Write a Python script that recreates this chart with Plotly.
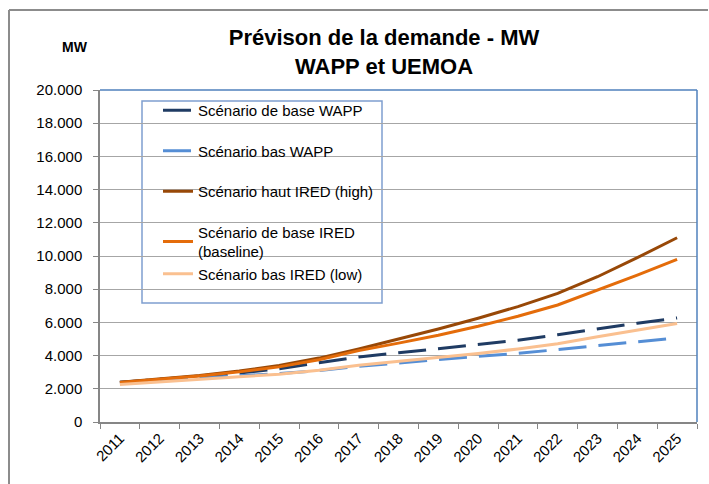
import plotly.graph_objects as go

years = [str(y) for y in range(2011, 2026)]

# valeurs (MW)
base_wapp = [2400, 2560, 2740, 2950, 3200, 3570, 3920, 4170, 4420, 4660, 4920, 5260, 5620, 5950, 6270]
bas_wapp = [2380, 2500, 2640, 2780, 2920, 3100, 3350, 3560, 3760, 3960, 4130, 4360, 4600, 4820, 5070]
haut_ired = [2400, 2580, 2800, 3070, 3400, 3850, 4400, 5000, 5600, 6250, 6950, 7750, 8750, 9900, 11100]
base_ired = [2380, 2560, 2770, 3020, 3320, 3750, 4300, 4750, 5230, 5770, 6370, 7050, 7950, 8850, 9800]
bas_ired = [2260, 2400, 2560, 2720, 2880, 3120, 3420, 3660, 3860, 4120, 4400, 4720, 5130, 5530, 5930]

y_ticks = list(range(0, 20001, 2000))

series = [
    ("Scénario de base WAPP", base_wapp, "#1F3B63", "28px,12px", "g1"),
    ("Scénario bas WAPP", bas_wapp, "#558ED5", "28px,12px", "g2"),
    ("Scénario haut IRED (high)", haut_ired, "#984807", "solid", "g3"),
    ("Scénario de base IRED<br>(baseline)", base_ired, "#E46C0A", "solid", "g4"),
    ("Scénario bas IRED (low)", bas_ired, "#FAC090", "solid", "g4"),
]

fig = go.Figure()
for name, vals, color, dash, grp in series:
    fig.add_trace(go.Scatter(
        x=years, y=vals, mode="lines", name=name, legendgroup=grp,
        line=dict(color=color, width=3, dash=dash),
    ))

W, H = 709, 484
L, R, T, B = 100, 697, 90, 422

def px(x):
    return (x - L) / (R - L)

def py(y):
    return (B - y) / (B - T)

fig.update_layout(
    width=W, height=H,
    margin=dict(l=L, r=W - R, t=T, b=H - B),
    paper_bgcolor="white", plot_bgcolor="white",
    font=dict(family="Liberation Sans", size=14, color="black"),
    separators=",.",
    title=dict(
        text="<b>Prévison de la demande - MW<br>WAPP et UEMOA</b>",
        x=384 / W, xanchor="center", y=1 - 45 / H, yanchor="top",
        font=dict(size=22, color="black"),
    ),
    showlegend=True,
    legend=dict(
        x=px(158), y=py(94), xanchor="left", yanchor="top",
        bgcolor="rgba(0,0,0,0)", borderwidth=0,
        tracegroupgap=18, font=dict(size=15),
    ),
    xaxis=dict(
        type="category", range=[-0.5, 14.5],
        tickangle=-45, tickfont=dict(size=15),
        ticks="outside", ticklen=5, tickcolor="#868686",
        tickson="boundaries",
        showline=True, linecolor="#868686", linewidth=1.5,
        showgrid=False,
    ),
    yaxis=dict(
        range=[0, 20000], tickvals=y_ticks, tickformat=",",
        tickfont=dict(size=15), ticklabelstandoff=8,
        ticks="outside", ticklen=5, tickcolor="#868686",
        showline=True, linecolor="#868686", linewidth=1.5,
        showgrid=True, gridcolor="#A6A6A6", gridwidth=1,
        zeroline=False,
    ),
    shapes=[
        # bordure bleue de la zone de tracé (haut et droite)
        dict(type="line", xref="paper", yref="paper", x0=0, x1=1, y0=1, y1=1,
             line=dict(color="#4F81BD", width=1.5)),
        dict(type="line", xref="paper", yref="paper", x0=1, x1=1, y0=0, y1=1,
             line=dict(color="#4F81BD", width=1.5)),
        # cadre de la légende
        dict(type="rect", xref="paper", yref="paper", layer="between",
             x0=px(142), x1=px(382), y0=py(303), y1=py(101),
             fillcolor="white", line=dict(color="#7F9FCF", width=1.5)),
        # cadre extérieur du graphique (coupé)
        dict(type="line", xref="paper", yref="paper",
             x0=px(9), x1=px(9), y0=py(10), y1=py(484),
             line=dict(color="#8C8C8C", width=2)),
        dict(type="line", xref="paper", yref="paper",
             x0=px(9), x1=px(708), y0=py(10), y1=py(10),
             line=dict(color="#8C8C8C", width=2)),
    ],
    annotations=[
        dict(text="<b>MW</b>", xref="paper", yref="paper",
             x=px(75), y=py(47), xanchor="center", yanchor="middle",
             showarrow=False, font=dict(size=14, color="black")),
    ],
)

fig.write_html("out.html", config={"displayModeBar": False},
               post_script="document.body.style.margin='0';")
